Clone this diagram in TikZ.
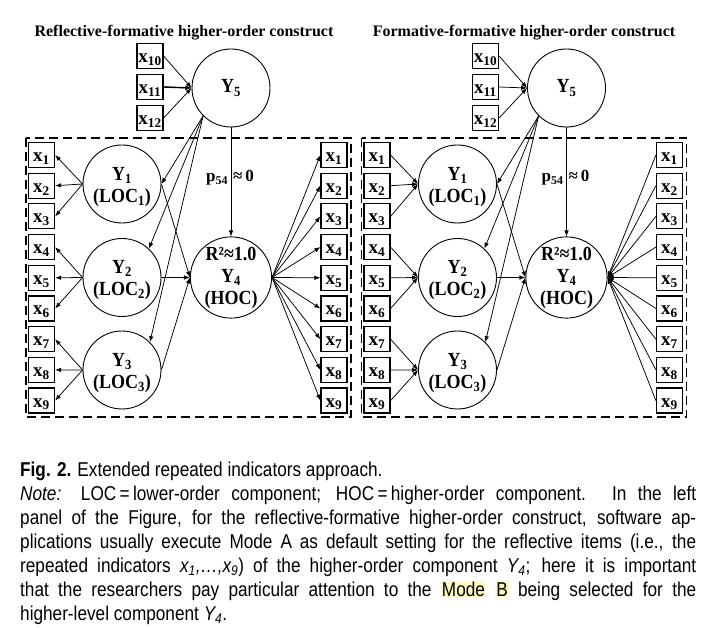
\documentclass[tikz,border=0pt]{standalone}
\usepackage{fontspec}
\setmainfont{Liberation Serif}
\newfontfamily\lblfont[FakeStretch=0.9]{Liberation Serif}
\newfontfamily\capfont[FakeStretch=0.86]{Liberation Sans}
\usetikzlibrary{arrows.meta,positioning}
\definecolor{hl}{RGB}{255,250,195}

\tikzset{
  ind/.style={draw, line width=1.2pt, minimum width=26pt, minimum height=25pt, inner sep=0pt,
    text height=14pt, text depth=1pt, font=\bfseries\fontsize{19}{19}\selectfont},
  lat/.style={draw, circle, line width=0.9pt, minimum size=78pt, inner sep=0pt, align=center,
    font=\lblfont\bfseries\fontsize{20}{22}\selectfont},
  lnk/.style={-{Latex[length=6pt,width=4.5pt]}, line width=0.75pt},
  panel/.style={draw, dash pattern=on 9pt off 5pt, line width=1.5pt},
  ttl/.style={font=\bfseries\fontsize{16}{16}\selectfont},
  capline/.style={anchor=base west, inner sep=0pt, font=\capfont\fontsize{20}{24}\selectfont},
}

\begin{document}
\begin{tikzpicture}[x=1pt, y=-1pt]
\useasboundingbox (0,0) rectangle (718,628);

\node[ttl] (ltitle) at (184,33) {Reflective-formative higher-order construct};
\node[ttl] (rtitle) at (524,33) {Formative-formative higher-order construct};

% both panels share the same layout
\foreach \p/\dx in {L/0, R/335.5} {
  \begin{scope}[xshift=\dx pt]
    \node[lat] (\p y5) at (231,88) {Y\textsubscript{5}};
    \foreach \i/\y in {10/56, 11/87, 12/118}
      \node[ind] (\p x\i) at (150,\y) {x\textsubscript{\i}};
    \draw[panel] (26,138) rectangle (351,417);
    \foreach \i in {1,...,9} {
      \node[ind] (\p a\i) at (41.5,{155+30.7*(\i-1)}) {x\textsubscript{\i}};
      \node[ind] (\p b\i) at (334,{155+30.7*(\i-1)}) {x\textsubscript{\i}};
    }
    \node[lat] (\p y1) at (122,184) {\\[-3pt]Y\textsubscript{1}\\(LOC\textsubscript{1})};
    \node[lat] (\p y2) at (122,277.5) {\\[-3pt]Y\textsubscript{2}\\(LOC\textsubscript{2})};
    \node[lat] (\p y3) at (122,370) {\\[-3pt]Y\textsubscript{3}\\(LOC\textsubscript{3})};
    \node[lat] (\p y4) at (231,277.5) {R²≈1.0\\Y\textsubscript{4}\\(HOC)};
    \node[font=\bfseries\fontsize{17}{17}\selectfont] (\p p) at (230,178) {p\textsubscript{54}\hspace{5pt}≈\,0};
    % paths between constructs
    \foreach \i in {10,11,12}
      \draw[lnk] (\p x\i.east) -- (\p y5.west);
    \draw[lnk] (\p y5.south) -- (\p y4.north);
    \draw[lnk] (\p y5.225) -- (\p y1.east);
    \draw[lnk] (\p y5.225) -- (\p y2.47);
    \draw[lnk] (\p y5.225) -- (\p y3.45);
    \foreach \j in {1,2,3}
      \draw[lnk] (\p y\j.east) -- (\p y4.west);
  \end{scope}
}
\draw[lnk, line width=1.4pt] (Lx11.east) -- (Ly5.west);

% reflective lower-order items, repeated items on the HOC
\foreach \i in {1,...,9} {
  \pgfmathtruncatemacro\j{int((\i-1)/3)+1}
  \draw[lnk] (Ly\j.west) -- (La\i.east);
  \draw[lnk] (Ly4.east) -- (Lb\i.west);
}
% formative lower-order items, repeated items on the HOC
\foreach \i in {1,...,9} {
  \pgfmathtruncatemacro\j{int((\i-1)/3)+1}
  \draw[lnk] (Ra\i.east) -- (Ry\j.west);
  \draw[lnk] (Rb\i.west) -- (Ry4.east);
}

% caption
\node[capline] (cap1) at (20,476) {\textbf{Fig. 2.}\hspace{6pt}Extended repeated indicators approach.};
\node[capline] (cap2) at (20,500) {\makebox[676pt][s]{\textit{Note:} LOC\,=\,lower-order component; HOC\,=\,higher-order component. In the left}};
\node[capline] (cap3) at (20,524) {\makebox[676pt][s]{panel of the Figure, for the reflective-formative higher-order construct, software ap-}};
\node[capline] (cap4) at (20,548) {\makebox[676pt][s]{plications usually execute Mode A as default setting for the reflective items (i.e., the}};
\node[capline] (cap5) at (20,572) {\makebox[676pt][s]{repeated indicators \textit{x\textsubscript{1},…,x\textsubscript{9}}) of the higher-order component \textit{Y\textsubscript{4}}; here it is important}};
\node[capline] (cap6) at (20,596) {\makebox[676pt][s]{that the researchers pay particular attention to the \setlength{\fboxsep}{1pt}\colorbox{hl}{Mode} \colorbox{hl}{B} being selected for the}};
\node[capline] (cap7) at (20,620) {higher-level component \textit{Y\textsubscript{4}}.};
\end{tikzpicture}
\end{document}
